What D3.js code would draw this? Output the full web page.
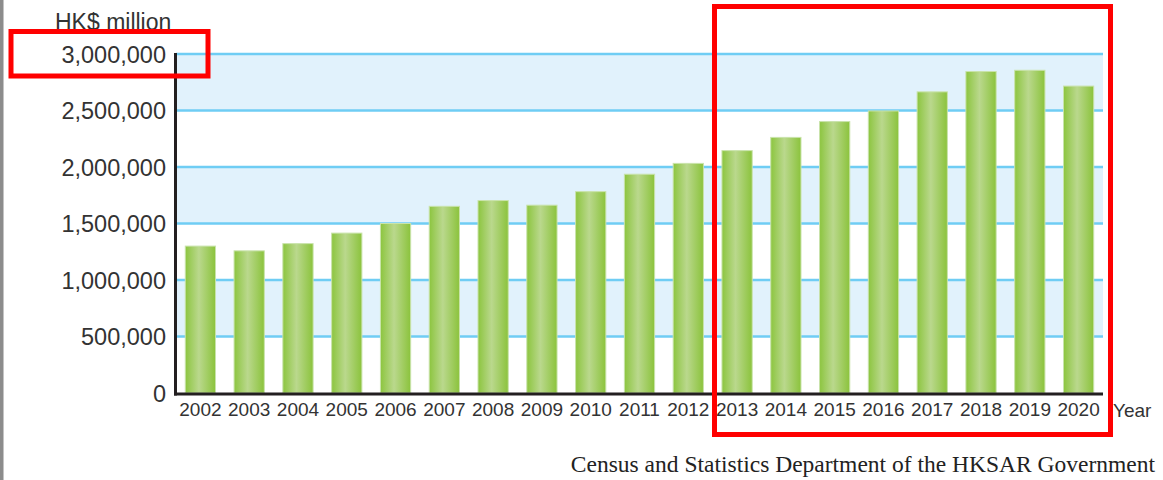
<!DOCTYPE html>
<html>
<head>
<meta charset="utf-8">
<script src="https://cdn.jsdelivr.net/npm/d3@7"></script>
<style>
	html, body { margin: 0; padding: 0; background: #fff; }
	svg { display: block; }
</style>
</head>
<body>
<div id="chart"></div>
<script>
// values (HK$ million)
const years = ['2002', '2003', '2004', '2005', '2006', '2007', '2008', '2009', '2010', '2011',
	'2012', '2013', '2014', '2015', '2016', '2017', '2018', '2019', '2020'];
const gdp = [1300000, 1258000, 1322000, 1415000, 1500000, 1652000, 1703000, 1662000, 1782000, 1936000,
	2032000, 2145000, 2262000, 2402000, 2496000, 2665000, 2845000, 2856000, 2716000];
const yTicks = [0, 500000, 1000000, 1500000, 2000000, 2500000, 3000000];
const bandStarts = [500000, 1500000, 2500000];

const width = 1163, height = 480;
const margin = { left: 176, right: 60, top: 54, bottom: 87 };
const font = '"Liberation Sans", Arial, sans-serif';
const textColor = '#333';

let svg = d3.select('#chart').append('svg')
	.attr('width', width)
	.attr('height', height);

let defs = svg.append('defs');
let grad = defs.append('linearGradient')
	.attr('id', 'barGreen')
	.attr('x1', '0%').attr('y1', '0%')
	.attr('x2', '100%').attr('y2', '0%');
grad.append('stop').attr('offset', '0%').attr('stop-color', '#8cc53f');
grad.append('stop').attr('offset', '45%').attr('stop-color', '#bad88d');
grad.append('stop').attr('offset', '100%').attr('stop-color', '#8bc33c');

// grey strip on the left edge
svg.append('rect').attr('x', 0).attr('y', 0).attr('width', 3).attr('height', height).attr('fill', '#8c8c8c');
svg.append('rect').attr('x', 3).attr('y', 0).attr('width', 1).attr('height', height).attr('fill', '#c4c4c4');

let xScale = d3.scaleBand()
	.domain(years)
	.range([margin.left, width - margin.right])
	.paddingInner(0.38)
	.paddingOuter(0.19);

let yScale = d3.scaleLinear()
	.domain([0, 3000000])
	.range([height - margin.bottom, margin.top]);

let x0 = margin.left, x1 = width - margin.right;

// alternating light blue bands
svg.append('g').selectAll('rect')
	.data(bandStarts)
	.enter().append('rect')
	.attr('x', x0)
	.attr('y', d => yScale(d + 500000))
	.attr('width', x1 - x0)
	.attr('height', d => yScale(d) - yScale(d + 500000))
	.attr('fill', '#e1f2fc');

// grid lines
svg.append('g').selectAll('line')
	.data(yTicks.filter(d => d > 0))
	.enter().append('line')
	.attr('x1', x0).attr('x2', x1)
	.attr('y1', d => yScale(d)).attr('y2', d => yScale(d))
	.attr('stroke', '#6fcdf4')
	.attr('stroke-width', 2.5);

// bars
svg.append('g').selectAll('rect')
	.data(gdp)
	.enter().append('rect')
	.attr('x', (d, i) => xScale(years[i]))
	.attr('y', d => yScale(d))
	.attr('width', xScale.bandwidth())
	.attr('height', d => yScale(0) - yScale(d))
	.attr('fill', 'url(#barGreen)')
	.attr('stroke', '#c9e3ab')
	.attr('stroke-width', 1);

// axes
let yAxis = svg.append('g')
	.attr('transform', `translate(${x0}, 0)`)
	.call(d3.axisLeft(yScale).tickValues(yTicks).tickSize(0).tickPadding(10).tickFormat(d3.format(',')));
yAxis.select('.domain').remove();
yAxis.selectAll('text')
	.attr('dy', '0.36em')
	.style('font-family', font)
	.style('font-size', '23.5px')
	.style('fill', textColor);

let xAxis = svg.append('g')
	.attr('transform', `translate(0, ${yScale(0)})`)
	.call(d3.axisBottom(xScale).tickSize(0).tickPadding(10));
xAxis.select('.domain').remove();
xAxis.selectAll('text')
	.style('font-family', font)
	.style('font-size', '19px')
	.style('fill', textColor);

svg.append('line')
	.attr('x1', x0 - 0.5).attr('x2', x0 - 0.5)
	.attr('y1', margin.top - 1).attr('y2', yScale(0) + 2.5)
	.attr('stroke', '#231f20').attr('stroke-width', 3);
svg.append('line')
	.attr('x1', x0 - 2).attr('x2', x1)
	.attr('y1', yScale(0) + 1).attr('y2', yScale(0) + 1)
	.attr('stroke', '#231f20').attr('stroke-width', 3);

// labels
svg.append('text')
	.attr('x', 55).attr('y', 30)
	.style('font-family', font).style('font-size', '23px').style('fill', textColor)
	.text('HK$ million');
svg.append('text')
	.attr('x', 1113).attr('y', 417)
	.style('font-family', font).style('font-size', '19px').style('fill', textColor)
	.text('Year');
svg.append('text')
	.attr('x', 1155).attr('y', 472)
	.attr('text-anchor', 'end')
	.style('font-family', '"Liberation Serif", "Times New Roman", serif')
	.style('font-size', '23.5px').style('fill', '#222')
	.text('Census and Statistics Department of the HKSAR Government');

// red highlight boxes
svg.append('rect')
	.attr('x', 11).attr('y', 31.5).attr('width', 197).attr('height', 44.5)
	.attr('fill', 'none').attr('stroke', '#ff0000').attr('stroke-width', 5);
svg.append('rect')
	.attr('x', 714.5).attr('y', 6.5).attr('width', 396).attr('height', 428)
	.attr('fill', 'none').attr('stroke', '#ff0000').attr('stroke-width', 5);
</script>
</body>
</html>
